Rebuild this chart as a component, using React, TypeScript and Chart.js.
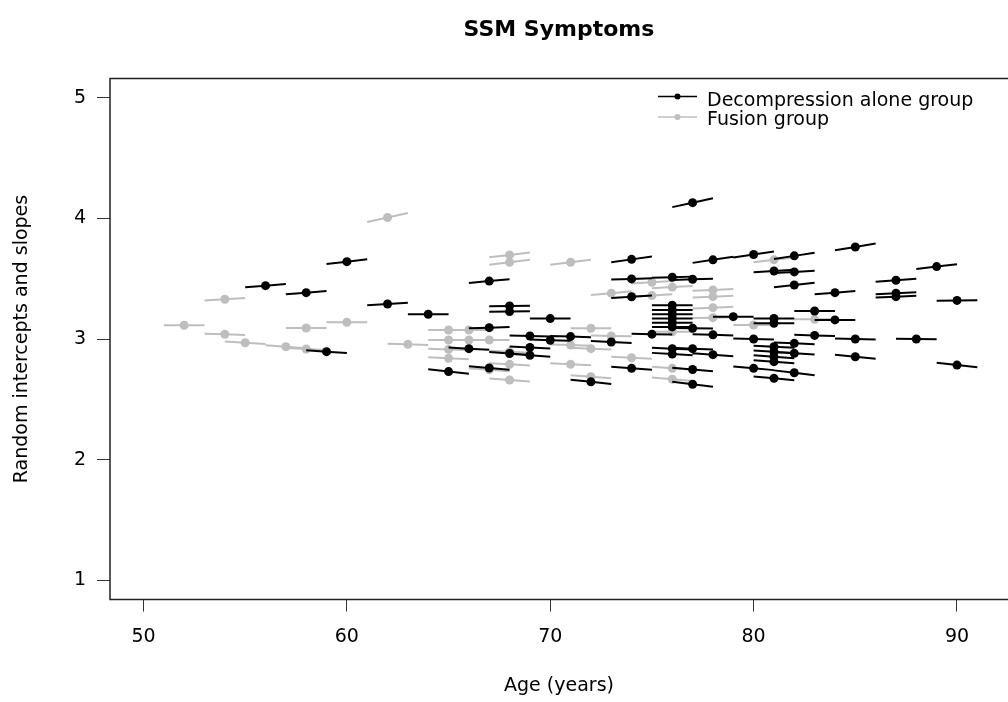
import React, { useEffect, useRef } from 'react';
import { Chart, registerables } from 'chart.js';

Chart.register(...registerables);

// ---- Data ----
const titleText = 'SSM Symptoms';
const xTitle = 'Age (years)';
const yTitle = 'Random intercepts and slopes';
const seriesNames = ['Decompression alone group', 'Fusion group'];
const xTicks = [50, 60, 70, 80, 90];
const yTicks = [1, 2, 3, 4, 5];

// Decompression alone group: age, fitted value at that age, yearly slope
const decompAge = [56, 58, 60, 62, 59, 64, 65, 66, 67, 67, 67, 68, 68, 68, 69, 69, 69, 70, 70, 71, 72, 73, 74, 74, 74, 74, 75, 76, 76, 76, 76, 76, 76, 76, 76, 76, 77, 77, 77, 77, 77, 77, 78, 78, 78, 79, 80, 80, 80, 81, 81, 81, 81, 81, 81, 81, 81, 82, 82, 82, 82, 82, 82, 83, 83, 84, 84, 85, 85, 85, 87, 87, 87, 88, 89, 90, 90];
const decompValue = [3.442, 3.384, 3.641, 3.29, 2.895, 3.205, 2.73, 2.92, 3.48, 3.094, 2.76, 3.274, 3.227, 2.88, 3.025, 2.93, 2.865, 3.169, 2.99, 3.02, 2.645, 2.975, 3.66, 3.498, 3.35, 2.757, 3.04, 3.512, 3.28, 3.24, 3.205, 3.17, 3.135, 3.1, 2.92, 2.875, 4.13, 3.495, 3.089, 2.92, 2.747, 2.625, 3.656, 3.035, 2.87, 3.185, 3.7, 3.0, 2.757, 3.564, 3.17, 3.13, 2.936, 2.895, 2.853, 2.812, 2.674, 3.689, 3.556, 3.448, 2.964, 2.881, 2.72, 3.232, 3.03, 3.384, 3.158, 3.763, 3.0, 2.853, 3.487, 3.379, 3.351, 3.0, 3.6, 3.32, 2.784];
const decompSlope = [0.013, 0.013, 0.02, 0.01, -0.012, 0.0, -0.019, -0.01, 0.015, 0.005, -0.015, 0.002, 0.002, -0.012, -0.005, -0.008, -0.012, 0.0, -0.005, -0.005, -0.018, -0.008, 0.023, 0.005, 0.01, -0.012, -0.003, 0.005, 0.0, 0.0, 0.0, 0.0, 0.0, 0.0, -0.008, -0.01, 0.037, 0.005, -0.002, -0.008, -0.015, -0.02, 0.025, -0.005, -0.012, 0.0, 0.025, -0.005, -0.015, 0.01, 0.0, 0.0, -0.008, -0.01, -0.012, -0.012, -0.015, 0.025, 0.01, 0.019, -0.008, -0.01, -0.02, 0.0, -0.005, 0.013, 0.0, 0.028, -0.005, -0.016, 0.013, 0.008, 0.008, -0.003, 0.02, 0.002, -0.019];

// Fusion group
const fusionAge = [52, 54, 54, 55, 57, 58, 58, 60, 62, 63, 65, 65, 65, 65, 66, 66, 67, 67, 68, 68, 68, 68, 68, 71, 71, 71, 72, 72, 72, 73, 73, 74, 75, 75, 76, 76, 76, 76, 78, 78, 78, 78, 80, 81, 83];
const fusionValue = [3.114, 3.329, 3.039, 2.969, 2.936, 3.091, 2.917, 3.139, 4.007, 2.956, 3.075, 2.992, 2.914, 2.84, 3.075, 2.992, 2.992, 2.745, 3.697, 3.636, 2.895, 2.79, 2.66, 3.636, 2.95, 2.79, 3.089, 2.92, 2.687, 3.38, 3.025, 2.845, 3.47, 3.36, 3.43, 3.06, 2.757, 2.666, 3.407, 3.351, 3.26, 3.177, 3.116, 3.656, 3.163];
const fusionSlope = [0.0, 0.01, -0.005, -0.01, -0.012, 0.0, -0.008, 0.0, 0.037, -0.005, 0.0, 0.0, -0.005, -0.008, 0.0, 0.0, 0.0, -0.012, 0.02, 0.02, -0.008, -0.01, -0.012, 0.02, -0.005, -0.008, 0.0, -0.008, -0.012, 0.015, -0.003, -0.008, 0.01, 0.01, 0.01, 0.0, -0.012, -0.015, 0.008, 0.008, 0.008, 0.003, 0.0, 0.02, 0.0];

const BLACK = '#000000';
const GRAY = '#bebebe';
const FONT = 'DejaVu Sans';

function segments(age: number[], value: number[], slope: number[]) {
  const pts: { x: number; y: number | null }[] = [];
  age.forEach((a, i) => {
    pts.push({ x: a - 1, y: value[i] - slope[i] });
    pts.push({ x: a, y: value[i] });
    pts.push({ x: a + 1, y: value[i] + slope[i] });
    pts.push({ x: a, y: null });
  });
  return pts;
}

const framePlugin = {
  id: 'frameAndLegend',
  afterDraw(chart: any) {
    const { ctx, chartArea } = chart;
    const { left, top, right, bottom } = chartArea;
    ctx.save();
    ctx.strokeStyle = '#222';
    ctx.lineWidth = 1.5;
    ctx.beginPath();
    ctx.moveTo(right + 5, top);
    ctx.lineTo(left, top);
    ctx.lineTo(left, bottom);
    ctx.lineTo(right + 5, bottom);
    ctx.stroke();

    // legend (inside plot, top right)
    const colors = [BLACK, GRAY];
    const symY = [96.5, 117];
    const textY = [106, 125];
    const lx0 = 658;
    const lx1 = 697;
    seriesNames.forEach((name, i) => {
      ctx.strokeStyle = colors[i];
      ctx.lineWidth = 1.5;
      ctx.beginPath();
      ctx.moveTo(lx0, symY[i]);
      ctx.lineTo(lx1, symY[i]);
      ctx.stroke();
      ctx.fillStyle = colors[i];
      ctx.beginPath();
      ctx.arc((lx0 + lx1) / 2, symY[i], 3, 0, Math.PI * 2);
      ctx.fill();
      ctx.fillStyle = '#000';
      ctx.font = `19px "${FONT}"`;
      ctx.textAlign = 'left';
      ctx.textBaseline = 'alphabetic';
      ctx.fillText(name, 707, textY[i]);
    });
    ctx.restore();
  },
};

export default function App() {
  const ref = useRef<HTMLCanvasElement>(null);
  useEffect(() => {
    if (!ref.current) return;
    const radius = (c: any) => (c.index % 4 === 1 ? 4.5 : 0);
    const chart = new Chart(ref.current, {
      type: 'line',
      data: {
        datasets: [
          {
            label: seriesNames[0],
            data: segments(decompAge, decompValue, decompSlope) as any,
            borderColor: BLACK,
            backgroundColor: BLACK,
            borderWidth: 2,
            pointRadius: radius,
            pointBorderWidth: 0,
            pointBackgroundColor: BLACK,
            spanGaps: false,
          },
          {
            label: seriesNames[1],
            data: segments(fusionAge, fusionValue, fusionSlope) as any,
            borderColor: GRAY,
            backgroundColor: GRAY,
            borderWidth: 2,
            pointRadius: radius,
            pointBorderWidth: 0,
            pointBackgroundColor: GRAY,
            spanGaps: false,
          },
        ],
      },
      options: {
        animation: false,
        responsive: false,
        devicePixelRatio: 1,
        layout: { padding: 0 },
        plugins: {
          legend: { display: false },
          tooltip: { enabled: false },
          title: {
            display: true,
            text: titleText,
            fullSize: false,
            color: '#000',
            font: { family: FONT, size: 22, weight: 'bold' },
            padding: { top: 16.8, bottom: 35.2 },
          },
        },
        scales: {
          x: {
            type: 'linear',
            min: 48.353,
            max: 92.508,
            afterBuildTicks: (s: any) => {
              s.ticks = xTicks.map((v) => ({ value: v }));
            },
            afterFit: (s: any) => {
              s.height = 102.4;
            },
            ticks: {
              color: '#000',
              font: { family: FONT, size: 19 },
              padding: 14,
              maxRotation: 0,
              autoSkip: false,
            },
            grid: { drawOnChartArea: false, drawTicks: true, tickLength: 12, color: '#333', lineWidth: 1 },
            border: { display: false },
            title: {
              display: true,
              text: xTitle,
              color: '#000',
              font: { family: FONT, size: 19 },
              padding: { top: 0, bottom: 4.6 },
            },
          },
          y: {
            type: 'linear',
            min: 0.84,
            max: 5.16,
            afterBuildTicks: (s: any) => {
              s.ticks = yTicks.map((v) => ({ value: v }));
            },
            afterFit: (s: any) => {
              s.width = 110;
            },
            ticks: {
              color: '#000',
              font: { family: FONT, size: 19 },
              padding: 11,
            },
            grid: { drawOnChartArea: false, drawTicks: true, tickLength: 13, color: '#333', lineWidth: 1 },
            border: { display: false },
            title: {
              display: true,
              text: yTitle,
              color: '#000',
              font: { family: FONT, size: 19 },
              padding: { top: 10.6, bottom: 0 },
            },
          },
        },
      },
      plugins: [framePlugin],
    });
    return () => chart.destroy();
  }, []);
  return (
    <div style={{ position: 'fixed', left: 0, top: 0, width: 1008, height: 702, background: '#fff' }}>
      <canvas ref={ref} width={1008} height={702} />
    </div>
  );
}
